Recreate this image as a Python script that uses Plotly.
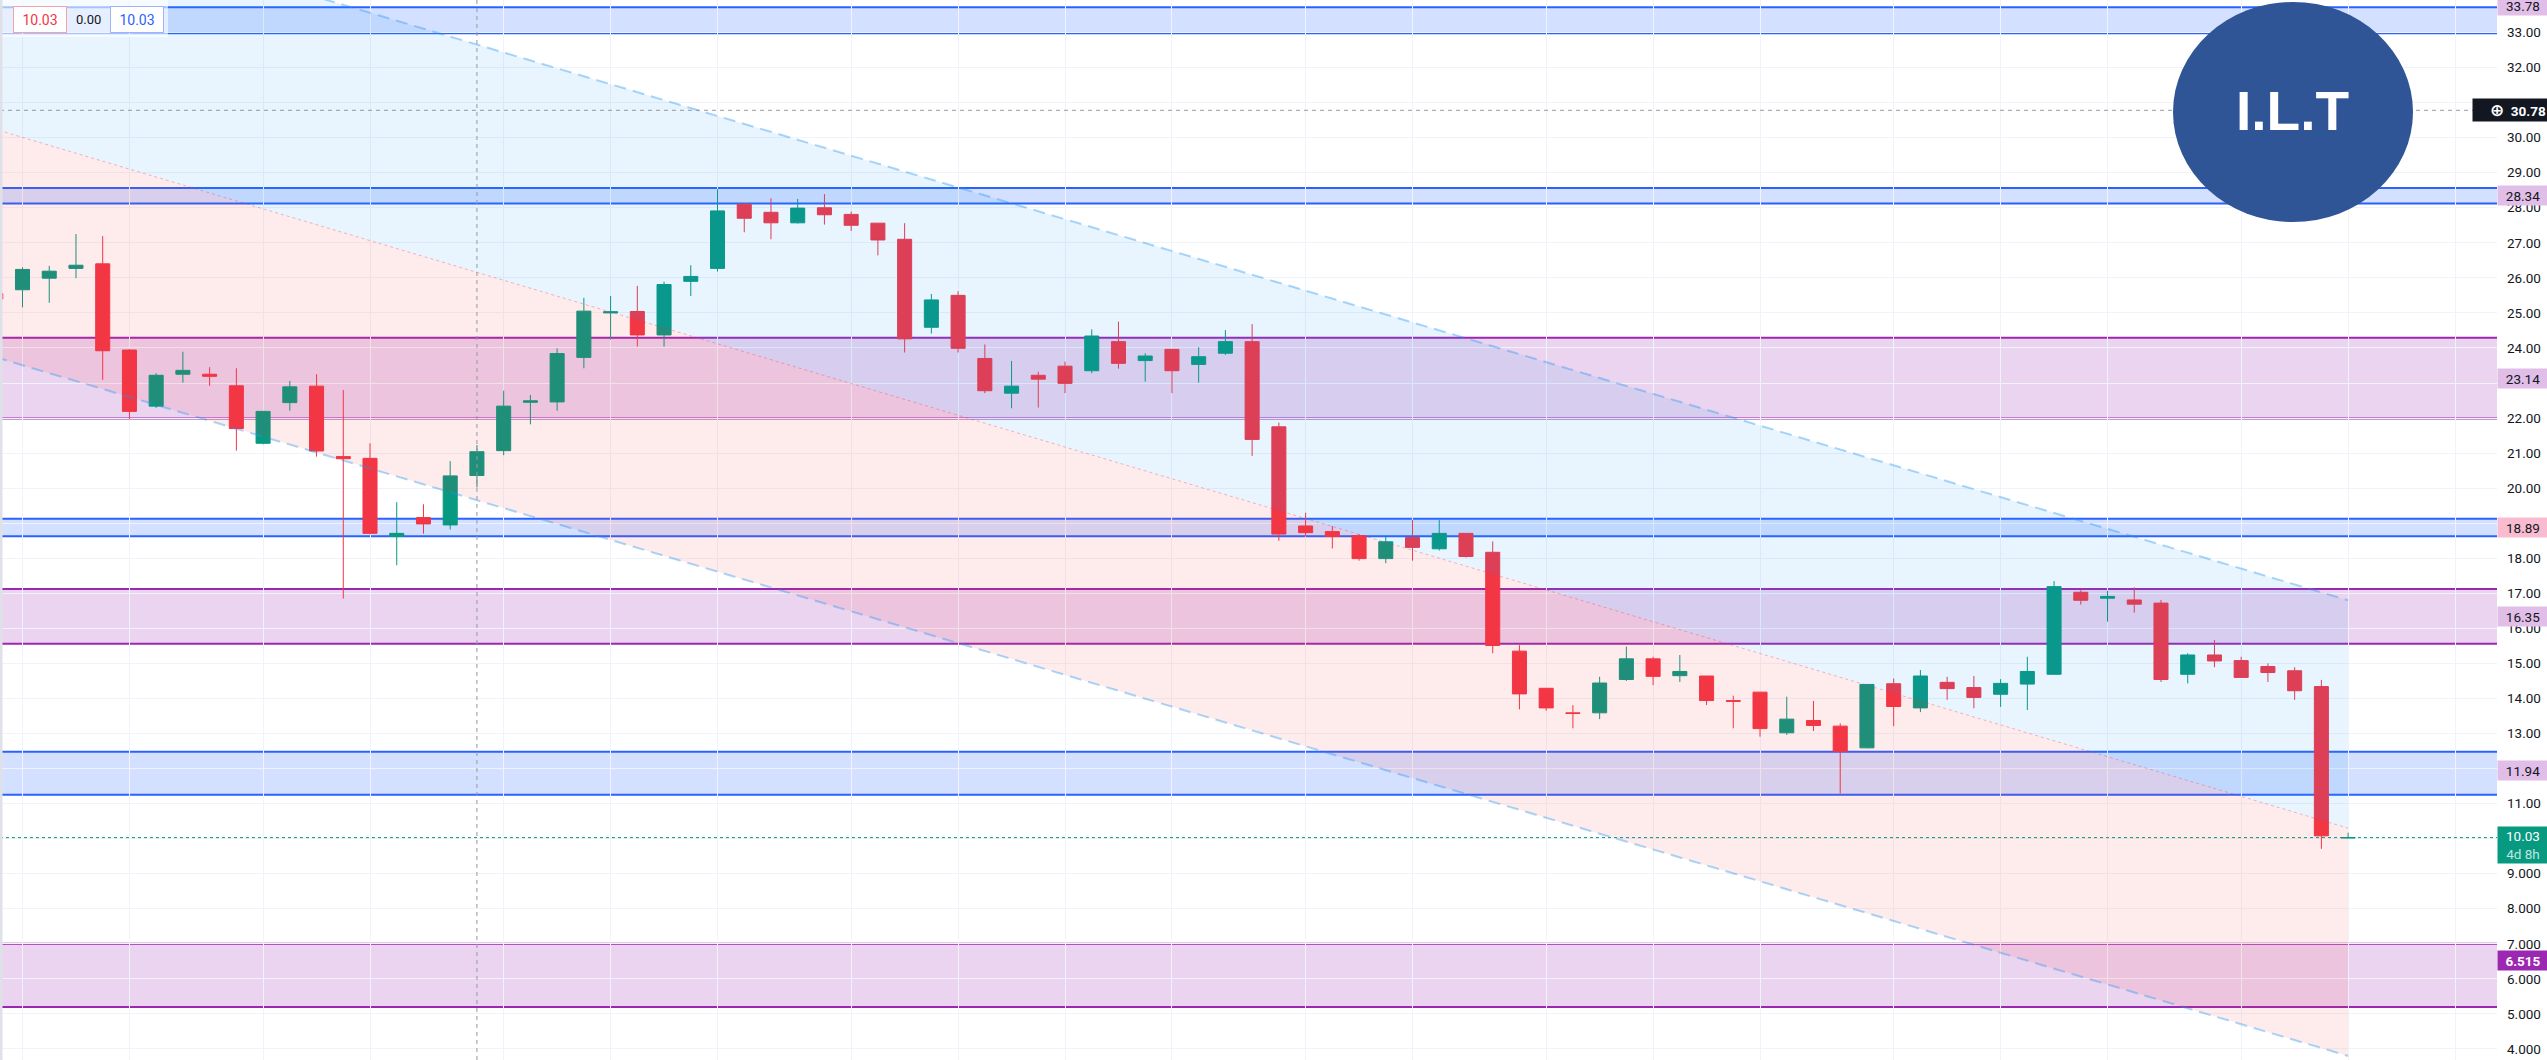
import plotly.graph_objects as go

# ---------------- data (weekly bars) ----------------
BAR = list(range(89))
OPEN = [25.55, 25.66, 25.99, 26.27, 26.40, 23.94, 22.34, 23.25, 23.25, 22.92,
        21.28, 22.44, 22.91, 20.90, 20.85, 18.62, 19.16, 18.95, 20.36, 21.07,
        22.45, 22.46, 23.73, 25.00, 25.04, 24.37, 25.90, 26.27, 28.10, 27.87,
        27.57, 28.00, 27.81, 27.56, 27.10, 24.59, 25.50, 23.70, 22.71, 23.22,
        23.48, 23.35, 24.18, 23.64, 23.96, 23.53, 23.85, 24.18, 21.75, 18.92,
        18.76, 18.64, 17.99, 18.59, 18.27, 18.71, 18.17, 15.35, 14.29, 13.59,
        13.59, 14.54, 15.13, 14.65, 14.64, 13.94, 14.18, 13.02, 13.37, 13.21,
        12.59, 14.42, 13.73, 14.46, 14.31, 14.12, 14.41, 14.69, 17.03, 16.86,
        16.81, 16.72, 14.69, 15.24, 15.08, 14.91, 14.79, 14.34, 10.02]
HIGH = [25.62, 26.30, 26.34, 27.25, 27.19, 23.97, 23.28, 23.89, 23.45, 23.42,
        22.20, 23.06, 23.25, 22.80, 21.28, 19.60, 19.54, 20.77, 21.23, 22.78,
        22.66, 23.99, 25.43, 25.48, 25.77, 25.89, 26.36, 28.53, 28.13, 28.27,
        28.25, 28.39, 27.89, 27.56, 27.56, 25.54, 25.62, 24.10, 23.63, 23.32,
        23.61, 24.53, 24.75, 23.85, 23.96, 24.02, 24.51, 24.68, 21.87, 19.30,
        18.92, 18.69, 18.62, 19.09, 19.09, 18.71, 18.48, 15.52, 14.29, 13.81,
        14.62, 15.48, 15.19, 15.24, 14.64, 14.08, 14.18, 14.05, 13.93, 13.29,
        14.40, 14.57, 14.81, 14.62, 14.64, 14.55, 15.19, 17.35, 17.09, 17.07,
        17.17, 16.81, 15.29, 15.67, 15.19, 15.00, 14.89, 14.53, 10.17]
LOW = [25.30, 25.16, 25.29, 25.99, 23.09, 21.96, 22.29, 23.01, 22.92, 21.07,
       21.25, 22.21, 20.90, 16.85, 18.68, 17.80, 18.70, 18.82, 20.02, 20.94,
       21.82, 22.21, 23.42, 24.24, 24.04, 24.04, 25.48, 26.18, 27.30, 27.10,
       27.55, 27.52, 27.34, 26.64, 23.87, 24.41, 23.87, 22.71, 22.28, 22.30,
       22.71, 23.28, 23.41, 23.04, 22.71, 23.01, 23.80, 20.92, 18.50, 18.62,
       18.28, 17.93, 17.86, 17.93, 18.22, 18.02, 15.29, 13.69, 13.65, 13.15,
       13.41, 14.50, 14.38, 14.47, 13.81, 13.15, 12.91, 12.96, 13.07, 11.29,
       12.58, 13.21, 13.61, 13.96, 13.72, 13.76, 13.67, 14.67, 16.68, 16.19,
       16.45, 14.47, 14.43, 14.89, 14.60, 14.47, 13.96, 9.71, 10.02]
CLOSE = [25.40, 26.24, 26.19, 26.36, 23.92, 22.19, 23.22, 23.36, 23.19, 21.70,
         22.19, 22.89, 21.06, 20.84, 18.71, 18.71, 18.98, 20.35, 21.04, 22.34,
         22.49, 23.84, 25.05, 25.03, 24.37, 25.81, 26.04, 27.91, 27.70, 27.57,
         27.99, 27.80, 27.50, 27.08, 24.26, 25.37, 23.99, 22.78, 22.91, 23.11,
         22.99, 24.34, 23.56, 23.77, 23.35, 23.75, 24.18, 21.39, 18.69, 18.73,
         18.62, 17.99, 18.47, 18.31, 18.71, 18.05, 15.51, 14.13, 13.73, 13.57,
         14.44, 15.13, 14.63, 14.77, 13.94, 13.92, 13.14, 13.41, 13.23, 12.49,
         14.40, 13.77, 14.64, 14.28, 14.03, 14.43, 14.77, 17.19, 16.80, 16.91,
         16.69, 14.54, 15.24, 15.07, 14.60, 14.74, 14.22, 10.08, 10.03]

LAST_PRICE = 10.03
LAST_PRICE_TEXT = "10.03"
COUNTDOWN_TEXT = "4d 8h"

# monthly vertical grid (first bar of each month)
MONTH_START_BARS = [1, 5, 10, 14, 19, 23, 27, 32, 36, 40, 44, 49, 53, 58, 62,
                    66, 71, 75, 79, 84, 88, 92]

# price scale ticks (labels fully hidden behind price-scale labels are left blank)
Y_TICKS = list(range(4, 34))
Y_HIDDEN_TICKS = [10, 12, 19, 23, 31]
Y_TICK_TEXT = ["" if v in Y_HIDDEN_TICKS else (f"{v:.2f}" if v >= 10 else f"{v:.3f}")
               for v in Y_TICKS]

# horizontal zones (top, bottom)
BLUE_ZONES = [(33.72, 32.98), (28.56, 28.12), (19.13, 18.63), (12.48, 11.25)]
PURPLE_ZONES = [(24.29, 21.99), (17.12, 15.56), (7.00, 5.20)]

# price-scale labels of the drawings
ZONE_LABELS = ["33.78", "28.34", "23.14", "18.89", "16.35", "11.94", "6.515"]
ZONE_LABEL_VALUES = [33.78, 28.34, 23.14, 18.89, 16.35, 11.94, 6.515]
ZONE_LABEL_BG = ["#e1bee7", "#e1bee7", "#e1bee7", "#f8bbd0", "#e1bee7", "#e1bee7", "#9c27b0"]
ZONE_LABEL_FG = ["#131722", "#131722", "#131722", "#131722", "#131722", "#131722", "#ffffff"]

# regression-trend drawing (end points)
REG_X = [-30, 88]
REG_UPPER = [43.53, 16.80]
REG_BASE = [37.03, 10.30]
REG_LOWER = [30.53, 3.80]

# crosshair
CROSSHAIR_BAR = 18
CROSSHAIR_PRICE = 30.78
CROSSHAIR_TEXT = "30.78"

# legend values (top-left)
LEGEND_VALUES = ["10.03", "0.00", "10.03"]

LOGO_TEXT = "I.L.T"

# ---------------- geometry / style ----------------
W, H = 2547, 1060
AXIS_W = 50
PLOT_W = W - AXIS_W
PLOT_H = H
X_RANGE = [0.158, 93.57]
Y_RANGE = [3.685, 33.927]

UP = "#089981"
DOWN = "#F23645"
BLUE = "#2962FF"
PURPLE = "#9c27b0"
FONT = "Roboto"


def px(xp):
    return xp / PLOT_W


def py(yp):
    return 1 - yp / PLOT_H


fig = go.Figure()

# regression trend fills and lines
fig.add_trace(go.Scatter(x=REG_X, y=REG_LOWER, mode="lines",
                         line=dict(color="rgba(33,150,243,0.38)", width=2, dash="12px,7px"),
                         hoverinfo="skip"))
fig.add_trace(go.Scatter(x=REG_X, y=REG_BASE, mode="lines", fill="tonexty",
                         fillcolor="rgba(242,54,69,0.10)",
                         line=dict(color="rgba(242,54,69,0.35)", width=1, dash="3px,3px"),
                         hoverinfo="skip"))
fig.add_trace(go.Scatter(x=REG_X, y=REG_UPPER, mode="lines", fill="tonexty",
                         fillcolor="rgba(33,150,243,0.10)",
                         line=dict(color="rgba(33,150,243,0.38)", width=2, dash="12px,7px"),
                         hoverinfo="skip"))

fig.add_trace(go.Candlestick(
    x=BAR, open=OPEN, high=HIGH, low=LOW, close=CLOSE,
    increasing=dict(line=dict(color=UP, width=1), fillcolor=UP),
    decreasing=dict(line=dict(color=DOWN, width=1), fillcolor=DOWN),
    whiskerwidth=0, hoverinfo="skip"))

shapes = []
# zones
for top, bot in BLUE_ZONES:
    shapes.append(dict(type="rect", xref="paper", yref="y", x0=0, x1=1, y0=bot, y1=top,
                       fillcolor="rgba(41,98,255,0.2)", line=dict(width=0), layer="below"))
    for v in (top, bot):
        shapes.append(dict(type="line", xref="paper", yref="y", x0=0, x1=1, y0=v, y1=v,
                           line=dict(color=BLUE, width=2), layer="below"))
for top, bot in PURPLE_ZONES:
    shapes.append(dict(type="rect", xref="paper", yref="y", x0=0, x1=1, y0=bot, y1=top,
                       fillcolor="rgba(156,39,176,0.2)", line=dict(width=0), layer="below"))
    for v in (top, bot):
        shapes.append(dict(type="line", xref="paper", yref="y", x0=0, x1=1, y0=v, y1=v,
                           line=dict(color=PURPLE, width=2), layer="below"))

# last price dotted line
shapes.append(dict(type="line", xref="paper", yref="y", x0=0, x1=1, y0=LAST_PRICE, y1=LAST_PRICE,
                   line=dict(color=UP, width=1, dash="dot"), layer="above"))
# crosshair
shapes.append(dict(type="line", xref="x", yref="paper", x0=CROSSHAIR_BAR, x1=CROSSHAIR_BAR, y0=0, y1=1,
                   line=dict(color="#9598A1", width=1, dash="4px,4px"), layer="above"))
shapes.append(dict(type="line", xref="paper", yref="y", x0=0, x1=1, y0=CROSSHAIR_PRICE, y1=CROSSHAIR_PRICE,
                   line=dict(color="#9598A1", width=1, dash="4px,4px"), layer="above"))
# legend backdrop
shapes.append(dict(type="rect", xref="paper", yref="paper", x0=px(0), x1=px(168), y0=py(37), y1=py(0),
                   fillcolor="rgba(255,255,255,0.6)", line=dict(width=0), layer="above"))
# left edge strip
shapes.append(dict(type="rect", xref="paper", yref="paper", x0=px(0), x1=px(2.5), y0=0, y1=1,
                   fillcolor="#dfe1e8", line=dict(width=0), layer="above"))
# logo
shapes.append(dict(type="circle", xref="paper", yref="paper", x0=px(2173), x1=px(2413),
                   y0=py(222), y1=py(2), fillcolor="#2f5597", line=dict(width=0), layer="above"))

annotations = []
# logo text
annotations.append(dict(xref="paper", yref="paper", x=px(2292), y=py(111), text=LOGO_TEXT,
                        showarrow=False, xanchor="center", yanchor="middle",
                        font=dict(family="Liberation Sans", size=55, color="white", weight="bold")))

# top-left legend
annotations.append(dict(xref="paper", yref="paper", x=px(12.5), y=py(19), text=LEGEND_VALUES[0],
                        showarrow=False, xanchor="left", yanchor="middle", width=44, height=17,
                        borderpad=4, borderwidth=1, bordercolor="#f5a3aa", bgcolor="white",
                        font=dict(family=FONT, size=14, color=DOWN)))
annotations.append(dict(xref="paper", yref="paper", x=px(88), y=py(19), text=LEGEND_VALUES[1],
                        showarrow=False, xanchor="center", yanchor="middle",
                        font=dict(family=FONT, size=13, color="#131722")))
annotations.append(dict(xref="paper", yref="paper", x=px(110), y=py(19), text=LEGEND_VALUES[2],
                        showarrow=False, xanchor="left", yanchor="middle", width=44, height=17,
                        borderpad=4, borderwidth=1, bordercolor="#9db4f8", bgcolor="white",
                        font=dict(family=FONT, size=14, color=BLUE)))

# price scale labels of drawings
for txt, val, bg, fg in zip(ZONE_LABELS, ZONE_LABEL_VALUES, ZONE_LABEL_BG, ZONE_LABEL_FG):
    annotations.append(dict(xref="paper", yref="y", x=1, y=val, text=txt, showarrow=False,
                            xanchor="left", yanchor="middle", width=46, height=15, borderpad=2,
                            bgcolor=bg, align="center",
                            font=dict(family=FONT, size=13.5, color=fg,
                                      weight="bold" if fg == "#ffffff" else "normal")))

# last price label
annotations.append(dict(xref="paper", yref="y", x=1, y=LAST_PRICE, yshift=-7,
                        text=f"{LAST_PRICE_TEXT}<br><span style='color:rgba(255,255,255,0.75)'>{COUNTDOWN_TEXT}</span>",
                        showarrow=False, xanchor="left", yanchor="middle", width=46, height=32,
                        borderpad=2, bgcolor=UP, align="center",
                        font=dict(family=FONT, size=13.5, color="white")))

# crosshair label (plus icon and price in one dark box)
annotations.append(dict(xref="paper", yref="y", x=px(2472), y=CROSSHAIR_PRICE,
                        text=f"<span style='font-family:DejaVu Sans;font-size:17px'>⊕</span>  {CROSSHAIR_TEXT}",
                        showarrow=False, xanchor="left", yanchor="middle", width=71, height=18,
                        borderpad=2, bgcolor="#131722", align="right",
                        font=dict(family=FONT, size=13.5, color="white", weight="bold")))

fig.update_layout(
    width=W, height=H, autosize=False,
    margin=dict(l=0, r=AXIS_W, t=0, b=0, pad=0),
    paper_bgcolor="white", plot_bgcolor="white",
    showlegend=False, boxgap=0.25, hovermode=False,
    xaxis=dict(range=X_RANGE, tickvals=MONTH_START_BARS, showticklabels=False,
               showgrid=True, gridcolor="#f0f3fa", gridwidth=1, zeroline=False,
               showline=False, ticks="", rangeslider=dict(visible=False), fixedrange=True),
    yaxis=dict(side="right", range=Y_RANGE, tickvals=Y_TICKS, ticktext=Y_TICK_TEXT,
               showgrid=True, gridcolor="#f0f3fa", gridwidth=1, zeroline=False,
               showline=False, ticks="", ticklabelstandoff=9, fixedrange=True,
               tickfont=dict(family=FONT, size=13.5, color="#131722")),
    shapes=shapes, annotations=annotations,
)

fig.write_html("out.html", include_plotlyjs=True, config={"displayModeBar": False, "staticPlot": True},
               post_script="document.body.style.margin='0';document.body.style.overflow='hidden';")
